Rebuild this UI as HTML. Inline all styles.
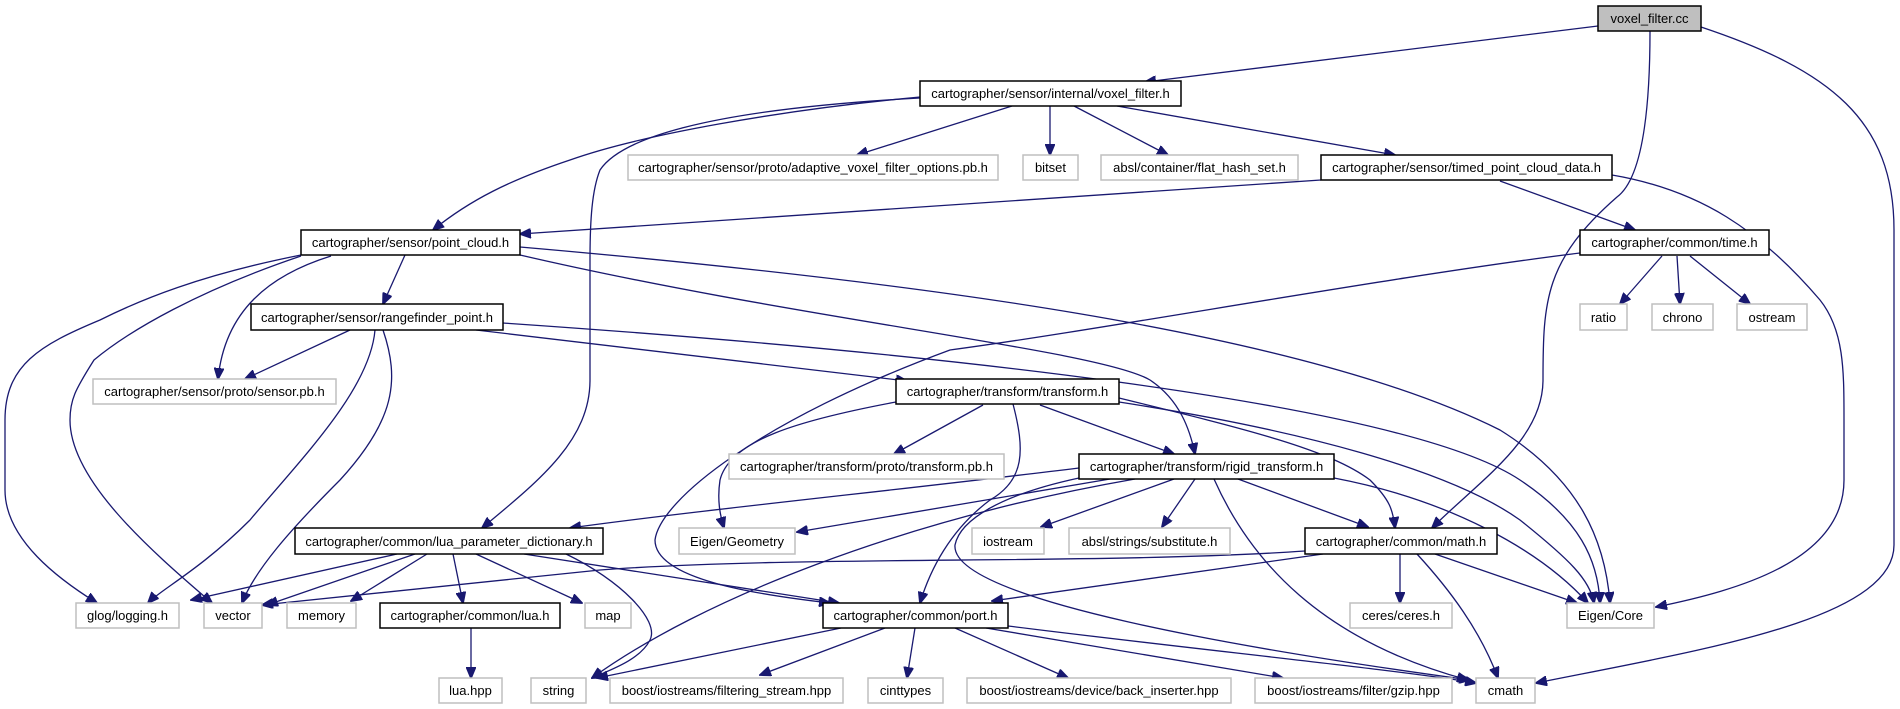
<!DOCTYPE html>
<html><head><meta charset="utf-8"><style>
html,body{margin:0;padding:0;background:#fff;}
svg{display:block;}
text{font-family:"Liberation Sans",sans-serif;font-size:13px;fill:#000;text-anchor:middle;}
.e{fill:none;stroke:#191970;stroke-width:1.3;marker-end:url(#a);}
.b{fill:#fff;stroke:#000;stroke-width:1.5;}
.g{fill:#fff;stroke:#bfbfbf;stroke-width:1.5;}
</style></head><body>
<svg width="1900" height="709" viewBox="0 0 1900 709" xmlns="http://www.w3.org/2000/svg">
<defs><marker id="a" markerUnits="userSpaceOnUse" markerWidth="12" markerHeight="10" refX="11" refY="5" orient="auto"><path d="M0,0 L12,5 L0,10 z" fill="#191970" stroke="#191970"/></marker></defs>
<g>
<path class="e" d="M1598,26 L1145,82"/>
<path class="e" d="M1650,31 C1650,120 1640,180 1617,197 C1545,260 1543,300 1543,380 C1543,440 1480,480 1432,528"/>
<path class="e" d="M1701,27 C1830,70 1894,120 1894,230 L1894,545 C1894,620 1700,650 1536,683"/>
<path class="e" d="M1012,106 L857,155"/>
<path class="e" d="M1050,106 L1050,155"/>
<path class="e" d="M1074,106 L1168,155"/>
<path class="e" d="M1117,106 L1395,155"/>
<path class="e" d="M920,97 C780,110 640,135 570,160 C510,180 470,200 433,230"/>
<path class="e" d="M920,98 C700,110 620,140 600,170 C592,190 590,220 590,260 L590,380 C590,440 540,480 482,528"/>
<path class="e" d="M1321,180 L520,234"/>
<path class="e" d="M1500,181 L1635,230"/>
<path class="e" d="M1612,175 C1700,190 1760,230 1820,300 C1844,330 1844,370 1844,420 L1844,480 C1844,560 1740,590 1656,607"/>
<path class="e" d="M1662,256 L1620,304"/>
<path class="e" d="M1677,256 L1680,304"/>
<path class="e" d="M1690,256 L1750,304"/>
<path class="e" d="M1580,253 C1400,275 1100,330 950,350 C760,420 660,500 655,540 C655,580 760,595 830,603"/>
<path class="e" d="M405,255 L383,304"/>
<path class="e" d="M331,256 C270,275 225,310 218,379"/>
<path class="e" d="M301,255 C200,275 140,300 100,320 C40,345 5,365 5,420 L5,490 C5,540 60,580 97,603"/>
<path class="e" d="M301,256 C200,290 130,330 94,360 C75,390 70,400 70,420 C70,480 150,550 212,603"/>
<path class="e" d="M520,247 C900,280 1300,330 1500,430 C1580,480 1605,540 1610,603"/>
<path class="e" d="M520,255 C800,320 1100,350 1150,380 C1180,400 1190,430 1195,454"/>
<path class="e" d="M350,330 L245,379"/>
<path class="e" d="M375,330 C370,390 300,460 250,520 C200,570 160,590 148,603"/>
<path class="e" d="M383,330 C400,380 395,420 340,480 C290,530 255,570 242,603"/>
<path class="e" d="M476,330 L907,381"/>
<path class="e" d="M503,323 C900,350 1400,400 1520,480 C1580,520 1598,560 1600,603"/>
<path class="e" d="M983,405 L894,454"/>
<path class="e" d="M896,402 C800,420 730,440 720,480 C717,500 720,515 724,528"/>
<path class="e" d="M1040,405 L1174,454"/>
<path class="e" d="M1119,398 C1250,430 1330,450 1370,480 C1390,500 1393,510 1395,528"/>
<path class="e" d="M1119,402 C1300,430 1450,470 1520,520 C1570,560 1590,580 1594,603"/>
<path class="e" d="M1013,404 C1025,450 1025,480 990,500 C950,530 930,570 920,603"/>
<path class="e" d="M1079,468 C900,490 700,510 570,528"/>
<path class="e" d="M1110,479 L797,532"/>
<path class="e" d="M1135,479 C900,520 700,600 592,678"/>
<path class="e" d="M1174,479 L1041,527"/>
<path class="e" d="M1195,479 L1162,527"/>
<path class="e" d="M1238,479 L1368,527"/>
<path class="e" d="M1214,479 C1250,560 1320,640 1468,680"/>
<path class="e" d="M1334,478 C1450,500 1540,550 1588,603"/>
<path class="e" d="M1079,478 C1000,495 960,520 955,545 C950,600 1250,650 1470,680"/>
<path class="e" d="M397,554 L191,600"/>
<path class="e" d="M415,554 L267,605"/>
<path class="e" d="M427,554 L351,601"/>
<path class="e" d="M453,554 L463,603"/>
<path class="e" d="M476,554 L582,603"/>
<path class="e" d="M524,554 L839,603"/>
<path class="e" d="M566,554 C620,580 660,620 650,640 C640,660 610,670 592,678"/>
<path class="e" d="M471,628 L471,678"/>
<path class="e" d="M1305,551 C1100,565 800,555 600,570 C400,590 300,600 262,605"/>
<path class="e" d="M1323,554 L992,601"/>
<path class="e" d="M1400,554 L1400,603"/>
<path class="e" d="M1417,554 C1450,590 1480,630 1498,678"/>
<path class="e" d="M1435,554 L1577,603"/>
<path class="e" d="M841,628 L597,678"/>
<path class="e" d="M885,628 L760,675"/>
<path class="e" d="M915,628 L907,678"/>
<path class="e" d="M955,628 L1068,678"/>
<path class="e" d="M986,628 L1283,678"/>
<path class="e" d="M1008,626 C1200,650 1400,670 1476,683"/>
</g>
<g>
<rect x="1598" y="6" width="103" height="25" fill="#bfbfbf" stroke="#000" stroke-width="1.5"/><text x="1649.5" y="23">voxel_filter.cc</text>
<rect class="b" x="920" y="81" width="261" height="25"/><text x="1050.5" y="98">cartographer/sensor/internal/voxel_filter.h</text>
<rect class="g" x="628" y="155" width="370" height="25"/><text x="813" y="172">cartographer/sensor/proto/adaptive_voxel_filter_options.pb.h</text>
<rect class="g" x="1023" y="155" width="55" height="25"/><text x="1050.5" y="172">bitset</text>
<rect class="g" x="1101" y="155" width="197" height="25"/><text x="1199.5" y="172">absl/container/flat_hash_set.h</text>
<rect class="b" x="1321" y="155" width="291" height="25"/><text x="1466.5" y="172">cartographer/sensor/timed_point_cloud_data.h</text>
<rect class="b" x="301" y="230" width="219" height="25"/><text x="410.5" y="247">cartographer/sensor/point_cloud.h</text>
<rect class="b" x="1580" y="230" width="189" height="25"/><text x="1674.5" y="247">cartographer/common/time.h</text>
<rect class="b" x="251" y="304" width="252" height="26"/><text x="377" y="322">cartographer/sensor/rangefinder_point.h</text>
<rect class="g" x="1580" y="304" width="47" height="26"/><text x="1603.5" y="322">ratio</text>
<rect class="g" x="1652" y="304" width="61" height="26"/><text x="1682.5" y="322">chrono</text>
<rect class="g" x="1737" y="304" width="70" height="26"/><text x="1772" y="322">ostream</text>
<rect class="g" x="93" y="379" width="243" height="25"/><text x="214.5" y="396">cartographer/sensor/proto/sensor.pb.h</text>
<rect class="b" x="896" y="379" width="223" height="25"/><text x="1007.5" y="396">cartographer/transform/transform.h</text>
<rect class="g" x="729" y="454" width="275" height="25"/><text x="866.5" y="471">cartographer/transform/proto/transform.pb.h</text>
<rect class="b" x="1079" y="454" width="255" height="25"/><text x="1206.5" y="471">cartographer/transform/rigid_transform.h</text>
<rect class="b" x="295" y="528" width="308" height="26"/><text x="449" y="546">cartographer/common/lua_parameter_dictionary.h</text>
<rect class="g" x="679" y="528" width="116" height="26"/><text x="737" y="546">Eigen/Geometry</text>
<rect class="g" x="972" y="528" width="72" height="26"/><text x="1008" y="546">iostream</text>
<rect class="g" x="1069" y="528" width="161" height="26"/><text x="1149.5" y="546">absl/strings/substitute.h</text>
<rect class="b" x="1305" y="528" width="192" height="26"/><text x="1401" y="546">cartographer/common/math.h</text>
<rect class="g" x="76" y="603" width="103" height="25"/><text x="127.5" y="620">glog/logging.h</text>
<rect class="g" x="204" y="603" width="58" height="25"/><text x="233" y="620">vector</text>
<rect class="g" x="287" y="603" width="69" height="25"/><text x="321.5" y="620">memory</text>
<rect class="b" x="380" y="603" width="180" height="25"/><text x="470" y="620">cartographer/common/lua.h</text>
<rect class="g" x="585" y="603" width="46" height="25"/><text x="608" y="620">map</text>
<rect class="b" x="823" y="603" width="185" height="25"/><text x="915.5" y="620">cartographer/common/port.h</text>
<rect class="g" x="1350" y="603" width="102" height="25"/><text x="1401" y="620">ceres/ceres.h</text>
<rect class="g" x="1567" y="603" width="87" height="25"/><text x="1610.5" y="620">Eigen/Core</text>
<rect class="g" x="439" y="678" width="63" height="25"/><text x="470.5" y="695">lua.hpp</text>
<rect class="g" x="531" y="678" width="55" height="25"/><text x="558.5" y="695">string</text>
<rect class="g" x="610" y="678" width="233" height="25"/><text x="726.5" y="695">boost/iostreams/filtering_stream.hpp</text>
<rect class="g" x="868" y="678" width="75" height="25"/><text x="905.5" y="695">cinttypes</text>
<rect class="g" x="967" y="678" width="264" height="25"/><text x="1099" y="695">boost/iostreams/device/back_inserter.hpp</text>
<rect class="g" x="1255" y="678" width="197" height="25"/><text x="1353.5" y="695">boost/iostreams/filter/gzip.hpp</text>
<rect class="g" x="1476" y="678" width="59" height="25"/><text x="1505.5" y="695">cmath</text>
</g>
</svg>
</body></html>
